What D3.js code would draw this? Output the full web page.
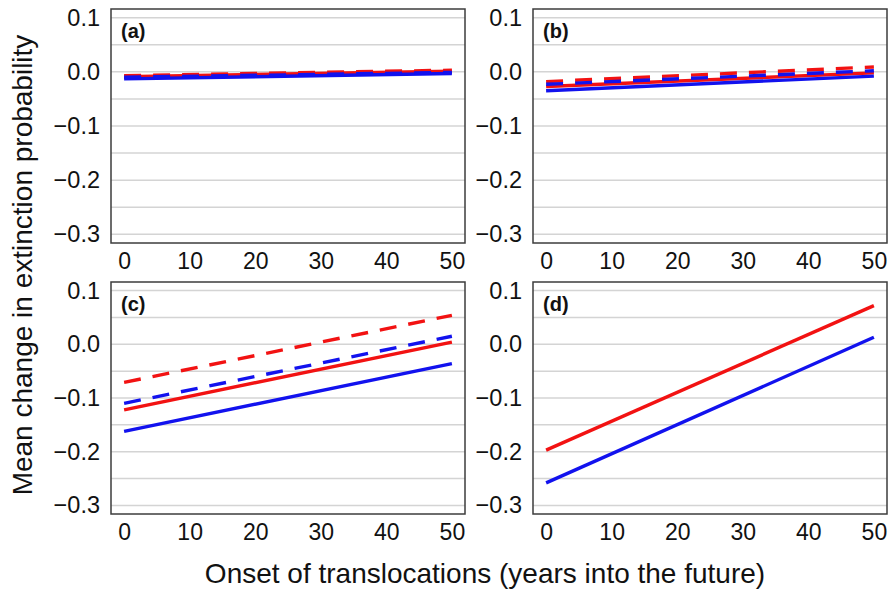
<!DOCTYPE html>
<html>
<head>
<meta charset="utf-8">
<script src="https://cdn.jsdelivr.net/npm/d3@7"></script>
<style>
  html, body { margin: 0; padding: 0; background: #fff; }
  svg { display: block; font-family: "Liberation Sans", Arial, Helvetica, sans-serif; }
</style>
</head>
<body>
<svg id="chart" width="889" height="591"></svg>
<script>
// Onset of translocations (years) at which each fitted line is evaluated
const onsetYears = [0, 50];

// Panel labels
const panelLabels = ["(a)", "(b)", "(c)", "(d)"];

// Mean change in extinction probability per panel, [onset 0, onset 50]
const redDashed  = [[-0.007, 0.003], [-0.018, 0.009], [-0.071, 0.054], null];
const redSolid   = [[-0.009, 0.001], [-0.027, -0.002], [-0.122, 0.004], [-0.197, 0.072]];
const blueDashed = [[-0.010, -0.001], [-0.023, 0.002], [-0.110, 0.015], null];
const blueSolid  = [[-0.013, -0.003], [-0.035, -0.008], [-0.162, -0.036], [-0.258, 0.013]];

// Axis ticks and grid
const xTicks = [0, 10, 20, 30, 40, 50];
const yTicks = [0.1, 0.0, -0.1, -0.2, -0.3];
const gridValues = [0.1, 0.05, 0.0, -0.05, -0.1, -0.15, -0.2, -0.25, -0.3];

const xTitle = "Onset of translocations (years into the future)";
const yTitle = "Mean change in extinction probability";

// Layout
const colLeft = [111, 533];
const rowTop = [9, 282];
const panelW = 354;
const rowH = [234, 232];

const RED = "#f21212";
const BLUE = "#1212ee";

const svg = d3.select("#chart");

const fmtY = d3.format(".1f");

panelLabels.forEach((label, i) => {
  const col = i % 2, row = Math.floor(i / 2);
  const x0 = colLeft[col], y0 = rowTop[row], h = rowH[row];

  const x = d3.scaleLinear().domain([-2, 52]).range([x0, x0 + panelW]);
  const y = d3.scaleLinear().domain([-0.316, 0.116]).range([y0 + h, y0]);

  const g = svg.append("g");

  // horizontal grid
  g.selectAll("line.grid")
    .data(gridValues)
    .join("line")
    .attr("class", "grid")
    .attr("x1", x0).attr("x2", x0 + panelW)
    .attr("y1", d => y(d)).attr("y2", d => y(d))
    .attr("stroke", "#d4d4d4")
    .attr("stroke-width", 1.5);

  // series
  const line = d3.line().x(d => x(d[0])).y(d => y(d[1]));
  const series = [
    { vals: redSolid[i], color: RED, dash: null },
    { vals: blueSolid[i], color: BLUE, dash: null },
    { vals: redDashed[i], color: RED, dash: "17,12" },
    { vals: blueDashed[i], color: BLUE, dash: "17,12" }
  ].filter(s => s.vals);

  series.forEach(s => {
    g.append("path")
      .datum(onsetYears.map((yr, k) => [yr, s.vals[k]]))
      .attr("d", line)
      .attr("fill", "none")
      .attr("stroke", s.color)
      .attr("stroke-width", 3.4)
      .attr("stroke-dasharray", s.dash);
  });

  // frame
  g.append("rect")
    .attr("x", x0).attr("y", y0)
    .attr("width", panelW).attr("height", h)
    .attr("fill", "none")
    .attr("stroke", "#3c3c3c")
    .attr("stroke-width", 1.5);

  // axes
  const yAxis = g.append("g")
    .attr("transform", `translate(${x0},0)`)
    .call(d3.axisLeft(y).tickValues(yTicks).tickFormat(fmtY).tickSize(0).tickPadding(11));
  yAxis.select(".domain").remove();
  yAxis.selectAll("text")
    .attr("font-size", 23.5)
    .attr("font-family", "Liberation Sans, Arial, sans-serif")
    .attr("fill", "#111");

  const xAxis = g.append("g")
    .attr("transform", `translate(0,${y0 + h})`)
    .call(d3.axisBottom(x).tickValues(xTicks).tickFormat(d3.format("d")).tickSize(0).tickPadding(10));
  xAxis.select(".domain").remove();
  xAxis.selectAll("text")
    .attr("font-size", 23)
    .attr("font-family", "Liberation Sans, Arial, sans-serif")
    .attr("fill", "#111");

  // panel label
  g.append("text")
    .attr("x", x0 + 10)
    .attr("y", y0 + 29)
    .attr("font-size", 20)
    .attr("font-weight", "bold")
    .attr("fill", "#111")
    .text(label);
});

// axis titles
svg.append("text")
  .attr("x", 485)
  .attr("y", 583)
  .attr("text-anchor", "middle")
  .attr("font-size", 28)
  .attr("fill", "#111")
  .text(xTitle);

svg.append("text")
  .attr("transform", "translate(32,265) rotate(-90)")
  .attr("text-anchor", "middle")
  .attr("font-size", 28)
  .attr("fill", "#111")
  .text(yTitle);
</script>
</body>
</html>
